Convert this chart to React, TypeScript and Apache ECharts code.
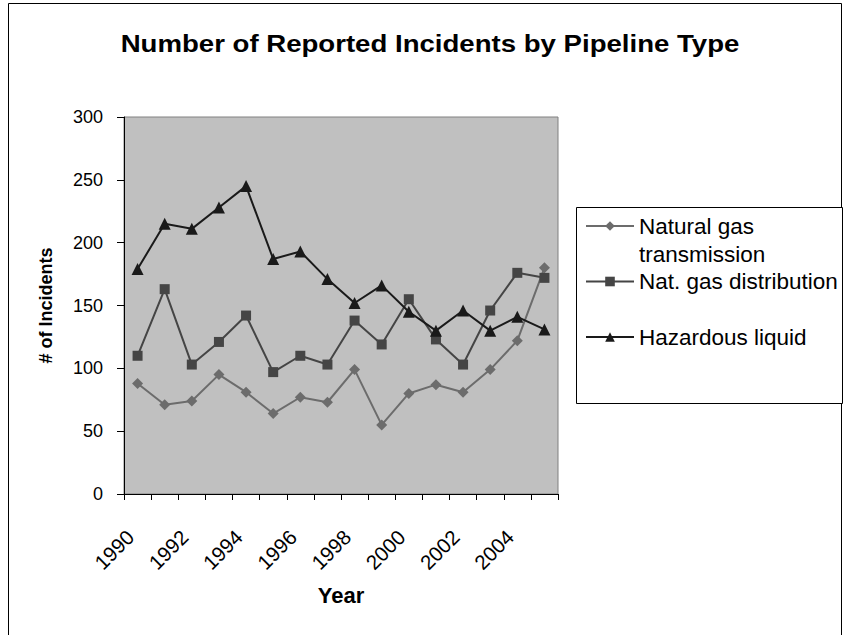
import React, { useEffect, useRef } from "react";
import * as echarts from "echarts";

const years = ["1990","1991","1992","1993","1994","1995","1996","1997","1998","1999","2000","2001","2002","2003","2004","2005"];
const seriesNames = ["Natural gas transmission", "Nat. gas distribution", "Hazardous liquid"];
const legendLabels = ["Natural gas\ntransmission", "Nat. gas distribution\n", "Hazardous liquid\n"];
const transmission = [88, 71, 74, 95, 81, 64, 77, 73, 99, 55, 80, 87, 81, 99, 122, 180];
const distribution = [110, 163, 103, 121, 142, 97, 110, 103, 138, 119, 155, 123, 103, 146, 176, 172];
const hazardous = [179, 215, 211, 228, 245, 187, 193, 171, 152, 166, 145, 130, 146, 130, 141, 131];
const yMin = 0;
const yMax = 300;
const yStep = 50;

const FONT = "'Liberation Sans', Arial, sans-serif";

export default function App() {
  const ref = useRef<HTMLDivElement>(null);
  useEffect(() => {
    if (!ref.current) return;
    const chart = echarts.init(ref.current, undefined, { renderer: "svg" });
    const colors = ["#6c6c6c", "#454545", "#1a1a1a"];
    const symbols = ["diamond", "rect", "triangle"];
    const sizes = [11, 10, 12];
    const datas = [transmission, distribution, hazardous];
    chart.setOption({
      animation: false,
      backgroundColor: "#ffffff",
      graphic: [
        {
          type: "rect",
          silent: true,
          shape: { x: 8.5, y: 3.5, width: 833, height: 660 },
          style: { fill: "none", stroke: "#000", lineWidth: 1 },
        },
        {
          type: "rect",
          silent: true,
          shape: { x: 576.5, y: 207.5, width: 266, height: 196 },
          style: { fill: "#fff", stroke: "#000", lineWidth: 1 },
        },
        {
          type: "text",
          silent: true,
          x: 430,
          y: 44,
          scaleX: 1.2,
          style: {
            text: "Number of Reported Incidents by Pipeline Type",
            fontFamily: FONT,
            fontSize: 23,
            fontWeight: "bold",
            fill: "#000",
            align: "center",
            verticalAlign: "middle",
          },
        },
      ],
      grid: {
        left: 124,
        top: 117,
        right: 286,
        bottom: 141,
        show: true,
        backgroundColor: "#c0c0c0",
        borderColor: "#808080",
        borderWidth: 1,
      },
      legend: {
        orient: "vertical",
        left: 585,
        top: 184,
        padding: 0,
        itemWidth: 48,
        itemHeight: 12,
        itemGap: -28.5,
        data: seriesNames,
        formatter: (name: string) => "\n" + legendLabels[seriesNames.indexOf(name)],
        textStyle: { fontFamily: FONT, fontSize: 22.5, color: "#000", lineHeight: 28 },
      },
      xAxis: {
        type: "category",
        data: years,
        boundaryGap: true,
        name: "Year",
        nameLocation: "middle",
        nameGap: 90,
        nameTextStyle: { fontFamily: FONT, fontSize: 22, fontWeight: "bold", color: "#000" },
        axisLine: { show: true, lineStyle: { color: "#000", width: 1 } },
        axisTick: { show: true, interval: 0, length: 6, lineStyle: { color: "#000" } },
        axisLabel: {
          interval: 1,
          rotate: 45,
          margin: 32,
          padding: [0, 10.5, 26.5, 0],
          fontFamily: FONT,
          fontSize: 20.5,
          color: "#000",
        },
        splitLine: { show: false },
      },
      yAxis: {
        type: "value",
        min: yMin,
        max: yMax,
        interval: yStep,
        name: "# of Incidents",
        nameLocation: "middle",
        nameGap: 69,
        nameTextStyle: { fontFamily: FONT, fontSize: 18, fontWeight: "bold", color: "#000" },
        axisLine: { show: true, lineStyle: { color: "#000", width: 1 } },
        axisTick: { show: true, length: 7, lineStyle: { color: "#000" } },
        axisLabel: { margin: 21, fontFamily: FONT, fontSize: 18, color: "#000" },
        splitLine: { show: false },
      },
      series: seriesNames.map((n, i) => ({
        name: n,
        type: "line",
        data: datas[i],
        symbol: symbols[i],
        symbolSize: sizes[i],
        showAllSymbol: true,
        lineStyle: { color: colors[i], width: 2 },
        itemStyle: { color: colors[i] },
        emphasis: { disabled: true },
      })),
    });
    return () => chart.dispose();
  }, []);
  return (
    <div
      ref={ref}
      style={{ position: "fixed", left: 0, top: 0, width: 844, height: 635 }}
    />
  );
}
